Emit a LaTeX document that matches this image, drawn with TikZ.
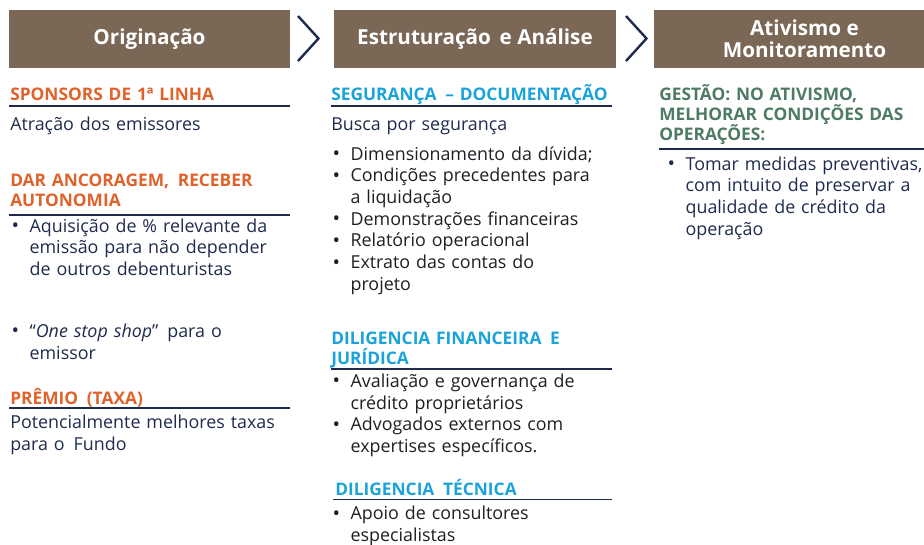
\documentclass[tikz,border=0pt]{standalone}
\usepackage{fontspec}
\setmainfont{Open Sans}
\usepackage{tikz}
\usetikzlibrary{positioning}

\definecolor{boxbrown}{HTML}{7B6756}
\definecolor{navy}{HTML}{1F2B4E}
\definecolor{orangeh}{HTML}{E0622B}
\definecolor{cyanh}{HTML}{1AA3DB}
\definecolor{greenh}{HTML}{4E7B63}
\definecolor{ink}{HTML}{1E1E24}

\newcommand{\bodyfont}{\fontsize{13.4}{16.3}\selectfont}
\newcommand{\headfont}{\bfseries\fontsize{13}{15.2}\selectfont}
\newcommand{\bul}{\makebox[14.5pt][l]{\kern1pt\raisebox{-0.4pt}{\fontsize{15}{15}\selectfont\textbullet}}}
\newcommand{\ind}{\hspace*{14.5pt}}

\begin{document}
\begin{tikzpicture}[x=0.75pt,y=-0.75pt,
  phase/.style={fill=boxbrown,text=white,font=\bfseries\fontsize{15.5}{16.3}\selectfont,
    minimum height=43.5pt,inner sep=0pt,align=center},
  sectitle/.style={anchor=base west,inner sep=0pt,text width=215pt,align=left,font=\headfont},
  bodytxt/.style={anchor=base west,inner sep=0pt,text width=215pt,align=left,font=\bodyfont},
  hrule/.style={draw=navy,line width=1pt},
  chev/.style={draw=navy,line width=1.8pt}]
\useasboundingbox (0,0) rectangle (924,544);
\clip (0,0) rectangle (924,544);

% phase boxes
\node[phase,minimum width=210.75pt] (orig) at (149.5,39) {Originação};
\node[phase,minimum width=211.5pt] (estr) at (475,39) {Estruturação \,e Análise};
\node[phase,minimum width=225.75pt] (ativ) at (804.5,39) {Ativismo e\\Monitoramento};
\draw[chev] (298,16) -- (318.5,38.5) -- (298,61);
\draw[chev] (626,16) -- (646.5,38.5) -- (626,61);

% coluna 1
\node[sectitle,text=orangeh] (spons) at (10,100.7) {SPONSORS DE 1ª LINHA};
\draw[hrule] (9,106) -- (290,106);
\node[bodytxt,text=navy] (atra) at (10,130) {Atração dos emissores};
\node[sectitle,text=orangeh] (ancor) at (10,186.7) {DAR ANCORAGEM, \,RECEBER\\AUTONOMIA};
\draw[hrule] (9,215) -- (290,215);
\node[bodytxt,text=navy] (aquis) at (10,232) {\bul Aquisição de \% relevante da\\\ind emissão para não depender\\\ind de outros debenturistas};
\node[bodytxt,text=navy] (stop) at (10,337.3) {\bul “\textit{One stop shop}” \,para o\\\ind emissor};
\node[sectitle,text=orangeh] (premio) at (10,404) {PRÊMIO \,(TAXA)};
\draw[hrule] (9,408) -- (290,408);
\node[bodytxt,text=navy] (taxas) at (10,428.3) {Potencialmente melhores taxas\\para o \,Fundo};

% coluna 2
\node[sectitle,text=cyanh] (segur) at (331,100.7) {SEGURANÇA \,– DOCUMENTAÇÃO};
\draw[hrule] (331,106) -- (612,106);
\node[bodytxt,text=navy] (busca) at (331,130) {Busca por segurança};
\node[bodytxt,text=ink] (docs) at (331,160) {\bul Dimensionamento da dívida;\\\bul Condições precedentes para\\\ind a liquidação\\\bul Demonstrações financeiras\\\bul Relatório operacional\\\bul Extrato das contas do\\\ind projeto};
\node[sectitle,text=cyanh] (dilfin) at (331,344) {DILIGENCIA FINANCEIRA \,E\\JURÍDICA};
\draw[hrule] (331,369) -- (612,369);
\node[bodytxt,text=ink] (aval) at (331,387.3) {\bul Avaliação e governança de\\\ind crédito proprietários\\\bul Advogados externos com\\\ind expertises específicos.};
\node[sectitle,text=cyanh] (diltec) at (335,495) {DILIGENCIA \,TÉCNICA};
\draw[hrule] (333,499.5) -- (612,499.5);
\node[bodytxt,text=ink] (apoio) at (331,519.5) {\bul Apoio de consultores\\\ind especialistas};

% coluna 3
\node[sectitle,text=greenh] (gestao) at (659,100) {GESTÃO: NO ATIVISMO,\\MELHORAR CONDIÇÕES DAS\\OPERAÇÕES:};
\draw[hrule] (659,149) -- (924,149);
\node[bodytxt,text=navy] (tomar) at (666,170) {\bul Tomar medidas preventivas,\\\ind com intuito de preservar a\\\ind qualidade de crédito da\\\ind operação};
\end{tikzpicture}
\end{document}
